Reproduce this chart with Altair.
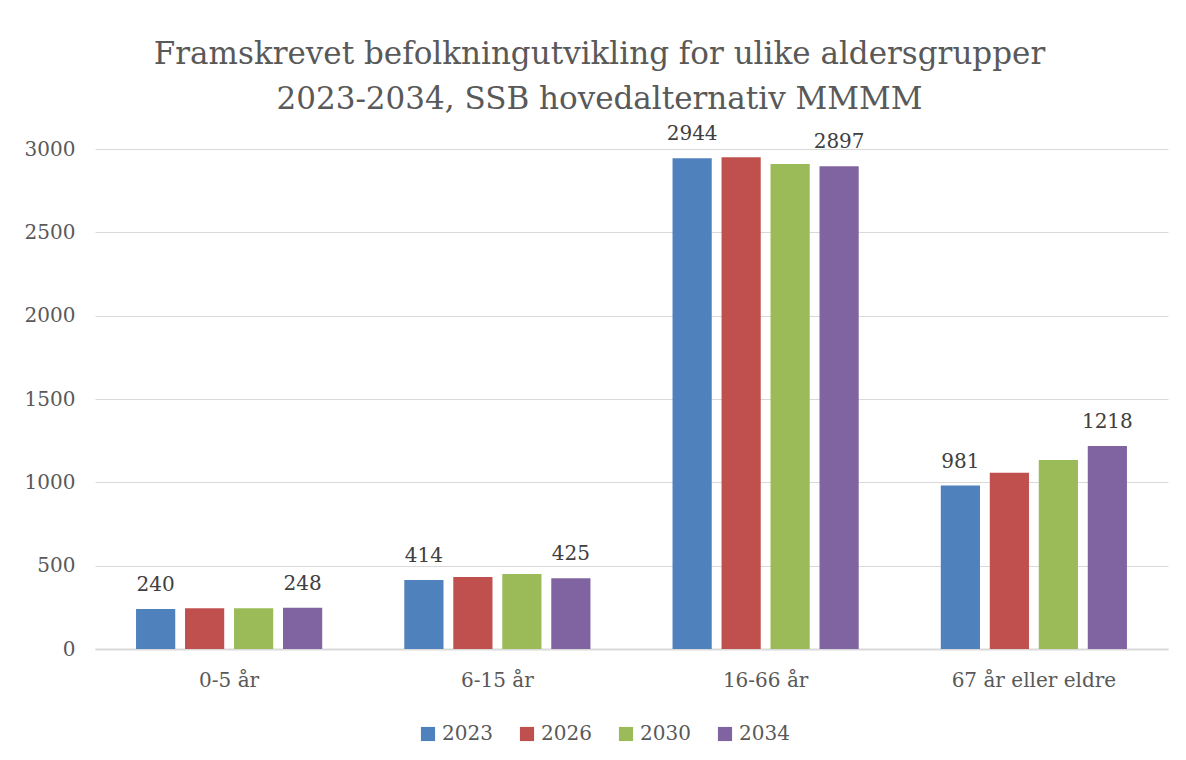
import altair as alt
import pandas as pd

categories = ["0-5 år", "6-15 år", "16-66 år", "67 år eller eldre"]
years = ["2023", "2026", "2030", "2034"]
v2023 = [240, 414, 2944, 981]
v2026 = [244, 432, 2951, 1058]
v2030 = [245, 450, 2910, 1134]
v2034 = [248, 425, 2897, 1218]
colors = ["#4F81BD", "#C0504D", "#9BBB59", "#8064A2"]
labelled_years = ["2023", "2034"]

rows = []
for yr, vals in zip(years, [v2023, v2026, v2030, v2034]):
    for c, v in zip(categories, vals):
        rows.append({"kategori": c, "år": yr, "verdi": v})
df = pd.DataFrame(rows)

FONT = "DejaVu Serif"
GRAY = "#595959"

x = alt.X("kategori:N", sort=categories, title=None,
          scale=alt.Scale(paddingInner=0.306, paddingOuter=0.153),
          axis=alt.Axis(labelAngle=0, labelFontSize=20, labelColor=GRAY, labelFont=FONT,
                        labelPadding=21, ticks=False, domainColor="#d9d9d9", domainWidth=2))
xo = alt.XOffset("år:N", sort=years, scale=alt.Scale(paddingInner=0.2, paddingOuter=0))
y = alt.Y("verdi:Q", title=None,
          scale=alt.Scale(domain=[0, 3000], nice=False),
          axis=alt.Axis(values=[0, 500, 1000, 1500, 2000, 2500, 3000], format="d",
                        labelFontSize=20, labelColor=GRAY, labelFont=FONT, labelPadding=20,
                        ticks=False, domain=False, gridColor="#d9d9d9", gridWidth=1))

bars = alt.Chart(df).mark_bar().encode(
    x=x, xOffset=xo, y=y,
    color=alt.Color("år:N", sort=years, scale=alt.Scale(domain=years, range=colors),
                    legend=alt.Legend(title=None, orient="none", legendX=323, legendY=575,
                                      direction="horizontal", symbolType="square", symbolSize=200,
                                      symbolStrokeWidth=0, labelFontSize=20, labelFont=FONT,
                                      labelColor=GRAY, columnPadding=24, labelOffset=4)),
)

labels = alt.Chart(df).transform_filter(
    alt.FieldOneOfPredicate(field="år", oneOf=labelled_years)
).mark_text(baseline="bottom", dy=-14, fontSize=20, font=FONT, color="#404040").encode(
    x=x, xOffset=xo, y=y, text=alt.Text("verdi:Q")
)

chart = alt.layer(bars, labels).properties(
    width=1073, height=500,
    background="white",
    title=alt.TitleParams(
        ["Framskrevet befolkningutvikling for ulike aldersgrupper",
         "2023-2034, SSB hovedalternativ MMMM"],
        fontSize=31, font=FONT, fontWeight="normal", color=GRAY, anchor="middle",
        dx=-32, offset=8, lineHeight=45),
    autosize=alt.AutoSizeParams(type="none"),
    padding={"left": 87, "top": 141, "right": 10, "bottom": 103},
).configure_view(stroke=None)

chart.save("out.html", embed_options={"renderer": "svg", "actions": False})
